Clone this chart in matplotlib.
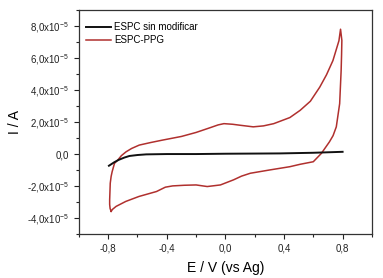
import numpy as np
import matplotlib
matplotlib.use('Agg')
import matplotlib.pyplot as plt
from matplotlib.ticker import MultipleLocator, FuncFormatter

plt.rcParams['font.family'] = ['Liberation Sans', 'DejaVu Sans']
plt.rcParams['mathtext.fontset'] = 'custom'
plt.rcParams['mathtext.rm'] = 'Liberation Sans'

# ── Data ──────────────────────────────────────────────────────────────────────
bare_E = [-0.795, -0.76, -0.73, -0.69, -0.655, -0.6, -0.54, -0.4, -0.2, 0.0, 0.2, 0.373, 0.6, 0.8]
bare_I = [-0.73e-5, -0.52e-5, -0.37e-5, -0.22e-5, -0.12e-5, -0.06e-5, -0.02e-5, 0.0, 0.0,
          0.02e-5, 0.03e-5, 0.04e-5, 0.08e-5, 0.14e-5]

# PPG-modified electrode, one full cycle starting at the lower-left vertex
ppg_E = [-0.78, -0.787, -0.79, -0.79, -0.786, -0.78, -0.773, -0.757, -0.734, -0.71, -0.678,
         -0.64, -0.588, -0.51, -0.43, -0.3, -0.2,
         -0.1, -0.05, -0.01, 0.05, 0.1, 0.19, 0.26, 0.33, 0.44, 0.51, 0.58, 0.644, 0.69, 0.734,
         0.775, 0.786,
         0.795, 0.793, 0.79, 0.78, 0.757, 0.735, 0.71, 0.655, 0.6, 0.51, 0.44, 0.305, 0.17,
         0.11, 0.056, -0.034, -0.124, -0.2, -0.28, -0.36, -0.41, -0.47, -0.59, -0.68, -0.746,
         -0.77, -0.78]
ppg_I = [-3.58e-5, -3.40e-5, -3.15e-5, -2.86e-5, -1.82e-5, -1.40e-5, -1.10e-5, -0.58e-5,
         -0.37e-5, -0.10e-5, 0.14e-5, 0.35e-5, 0.56e-5, 0.72e-5, 0.87e-5, 1.10e-5, 1.35e-5,
         1.66e-5, 1.82e-5, 1.90e-5, 1.86e-5, 1.80e-5, 1.70e-5, 1.76e-5, 1.90e-5, 2.28e-5,
         2.73e-5, 3.30e-5, 4.18e-5, 4.95e-5, 5.84e-5, 7.08e-5, 7.80e-5,
         7.10e-5, 6.20e-5, 5.20e-5, 3.15e-5, 1.70e-5, 1.15e-5, 0.76e-5, 0.04e-5, -0.48e-5,
         -0.64e-5, -0.79e-5, -0.99e-5, -1.20e-5, -1.38e-5, -1.61e-5, -1.93e-5, -2.03e-5,
         -1.93e-5, -1.95e-5, -1.99e-5, -2.07e-5, -2.34e-5, -2.65e-5, -2.96e-5, -3.27e-5,
         -3.45e-5, -3.58e-5]

labels = ['ESPC sin modificar', 'ESPC-PPG']

# ── Figure ────────────────────────────────────────────────────────────────────
fig = plt.figure(figsize=(3.83, 2.78), dpi=100)
ax = fig.add_axes([0.206, 0.158, 0.765, 0.806])

ax.plot(ppg_E, ppg_I, color='#b0302e', lw=1.1, label=labels[1], zorder=2)
ax.plot(bare_E, bare_I, color='#111111', lw=1.4, label=labels[0], zorder=3)

ax.set_xlim(-1.0, 1.0)
ax.set_ylim(-5e-5, 9e-5)
ax.xaxis.set_major_locator(MultipleLocator(0.4))
ax.xaxis.set_minor_locator(MultipleLocator(0.2))
ax.yaxis.set_major_locator(MultipleLocator(2e-5))
ax.yaxis.set_minor_locator(MultipleLocator(1e-5))


def yfmt(v, pos):
    m = v / 1e-5
    if abs(m) < 1e-9:
        return '0,0'
    return ('%.1f' % m).replace('.', ',') + r'x10$^{-5}$'


ax.yaxis.set_major_formatter(FuncFormatter(yfmt))
ax.xaxis.set_major_formatter(FuncFormatter(lambda v, p: ('%.1f' % v).replace('.', ',').replace('-0,0', '0,0')))

ax.tick_params(which='both', direction='out', labelsize=7, colors='#222222', width=0.8)
ax.tick_params(which='major', length=3.5)
ax.tick_params(which='minor', length=2)
for s in ax.spines.values():
    s.set_linewidth(0.9)
    s.set_edgecolor('#333333')

ax.set_xlabel('E / V (vs Ag)', fontsize=10, labelpad=5)
ax.set_ylabel('I / A', fontsize=10, labelpad=4)

h, l = ax.get_legend_handles_labels()
ax.legend(h[::-1], l[::-1], loc='upper left', frameon=False, fontsize=7,
          handlelength=2.6, handletextpad=0.3, labelspacing=0.3,
          borderaxespad=0.3, bbox_to_anchor=(0.0, 0.975))

fig.savefig('out.png', dpi=100)
